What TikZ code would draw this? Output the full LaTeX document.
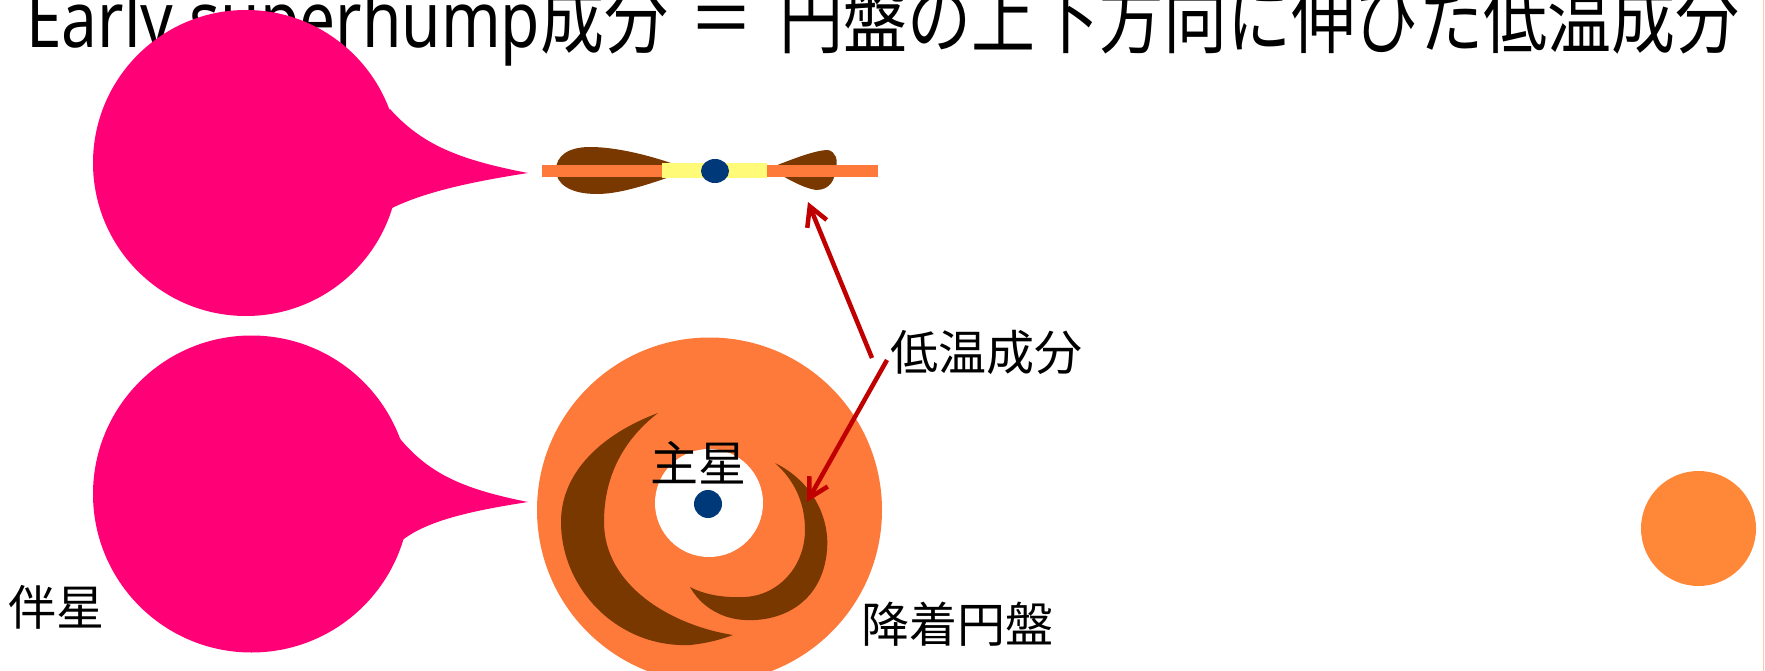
\documentclass[tikz,border=0pt]{standalone}
\usepackage{fontspec}
\usetikzlibrary{arrows.meta}
\newfontfamily\cjkfont{Noto Sans CJK JP}
\newfontfamily\latinfont{Noto Sans}
\definecolor{starpink}{HTML}{FF0076}
\definecolor{diskorange}{HTML}{FD7A3A}
\definecolor{coolbrown}{HTML}{783800}
\definecolor{hotyellow}{HTML}{FFFB78}
\definecolor{wdblue}{HTML}{00397A}
\definecolor{arrowred}{HTML}{C00000}
\definecolor{ballorange}{HTML}{FF8838}
\definecolor{edgeline}{HTML}{FFC9AE}
\begin{document}
\begin{tikzpicture}[x=1pt,y=-1pt,
  tag/.style={inner sep=0pt, text=black, font=\cjkfont\fontsize{48pt}{56pt}\selectfont},
  redarrow/.style={draw=arrowred, line width=4.5pt, -{Straight Barb[length=19pt,width=21pt]}}]
\useasboundingbox (0,0) rectangle (1765,671);
\clip (0,0) rectangle (1765,671);

% title line, set slightly tall
\node[anchor=base west, inner sep=0pt, text=black, font=\fontsize{64pt}{70pt}\selectfont] (title) at (26,48)
  {\scalebox{1}[1.22]{\latinfont Early superhump\cjkfont 成分\hspace{7pt} ＝ \hspace{12pt}円盤の上下方向に伸びた低温成分}};

% secondary star, edge-on view (upper) and face-on view (lower)
\fill[starpink] (246,163) circle[radius=153];
\fill[starpink] (390,109) .. controls (422,145) and (460,160) .. (528,173)
  .. controls (470,182) and (425,192) .. (392,208) -- (246,163) -- cycle;
\fill[starpink] (251.5,494) circle[radius=158.5];
\fill[starpink] (397,435) .. controls (427,473) and (462,489) .. (528,502)
  .. controls (470,511) and (425,521) .. (400,542) -- (251.5,494) -- cycle;

% edge-on disk: cool lobes, thin disk, hot inner part, primary
\fill[coolbrown] (556,170) .. controls (556,156) and (568,147) .. (590,147)
  .. controls (620,147) and (660,158) .. (690,170)
  .. controls (660,180) and (625,194) .. (597,194)
  .. controls (570,194) and (556,184) .. (556,170) -- cycle;
\fill[coolbrown] (770,168) .. controls (790,160) and (815,150) .. (828,150)
  .. controls (836,152) and (838,160) .. (836,168)
  .. controls (835,180) and (830,190) .. (816,190)
  .. controls (803,188) and (785,178) .. (770,168) -- cycle;
\fill[diskorange] (542,165) rectangle (878,177);
\fill[hotyellow] (662,163) rectangle (767,178);
\fill[wdblue] (715,171) ellipse[x radius=14, y radius=12];

% face-on disk with two cool spiral arms
\fill[diskorange] (709.5,510) circle[radius=172.5];
\fill[coolbrown] (658,413) .. controls (602,434) and (561,472) .. (561,522)
  .. controls (561,588) and (617,648) .. (690,645)
  .. controls (710,643) and (725,638) .. (733,635)
  .. controls (670,625) and (604,585) .. (604,522)
  .. controls (604,472) and (627,437) .. (658,413) -- cycle;
\fill[coolbrown] (775,463) .. controls (810,480) and (830,515) .. (827,550)
  .. controls (823,600) and (785,622) .. (745,620)
  .. controls (720,619) and (700,605) .. (690,587)
  .. controls (705,595) and (725,598) .. (745,597)
  .. controls (780,595) and (805,565) .. (805,530)
  .. controls (805,500) and (792,478) .. (775,463) -- cycle;
\fill[white] (709,503) circle[radius=54];
\fill[wdblue] (708,504) circle[radius=14];

% outer body on the right
\fill[ballorange] (1698.5,528.5) circle[radius=57.5];
\draw[edgeline, line width=1.5pt] (1763.5,0) -- (1763.5,671);

% labels
\node[tag] (lowtemp) at (986,352) {低温成分};
\node[tag] (primary) at (698,463) {主星};
\node[tag] (diskname) at (957,624) {降着円盤};
\node[tag] (secondary) at (57,607) {伴星};

% pointers from the label to the cool parts
\coordinate (tailA) at (872,358);
\coordinate (tipA) at (808,202);
\coordinate (tailB) at (887,360);
\coordinate (tipB) at (807,502);
\draw[redarrow] (tailA) -- (tipA);
\draw[redarrow] (tailB) -- (tipB);
\end{tikzpicture}
\end{document}
